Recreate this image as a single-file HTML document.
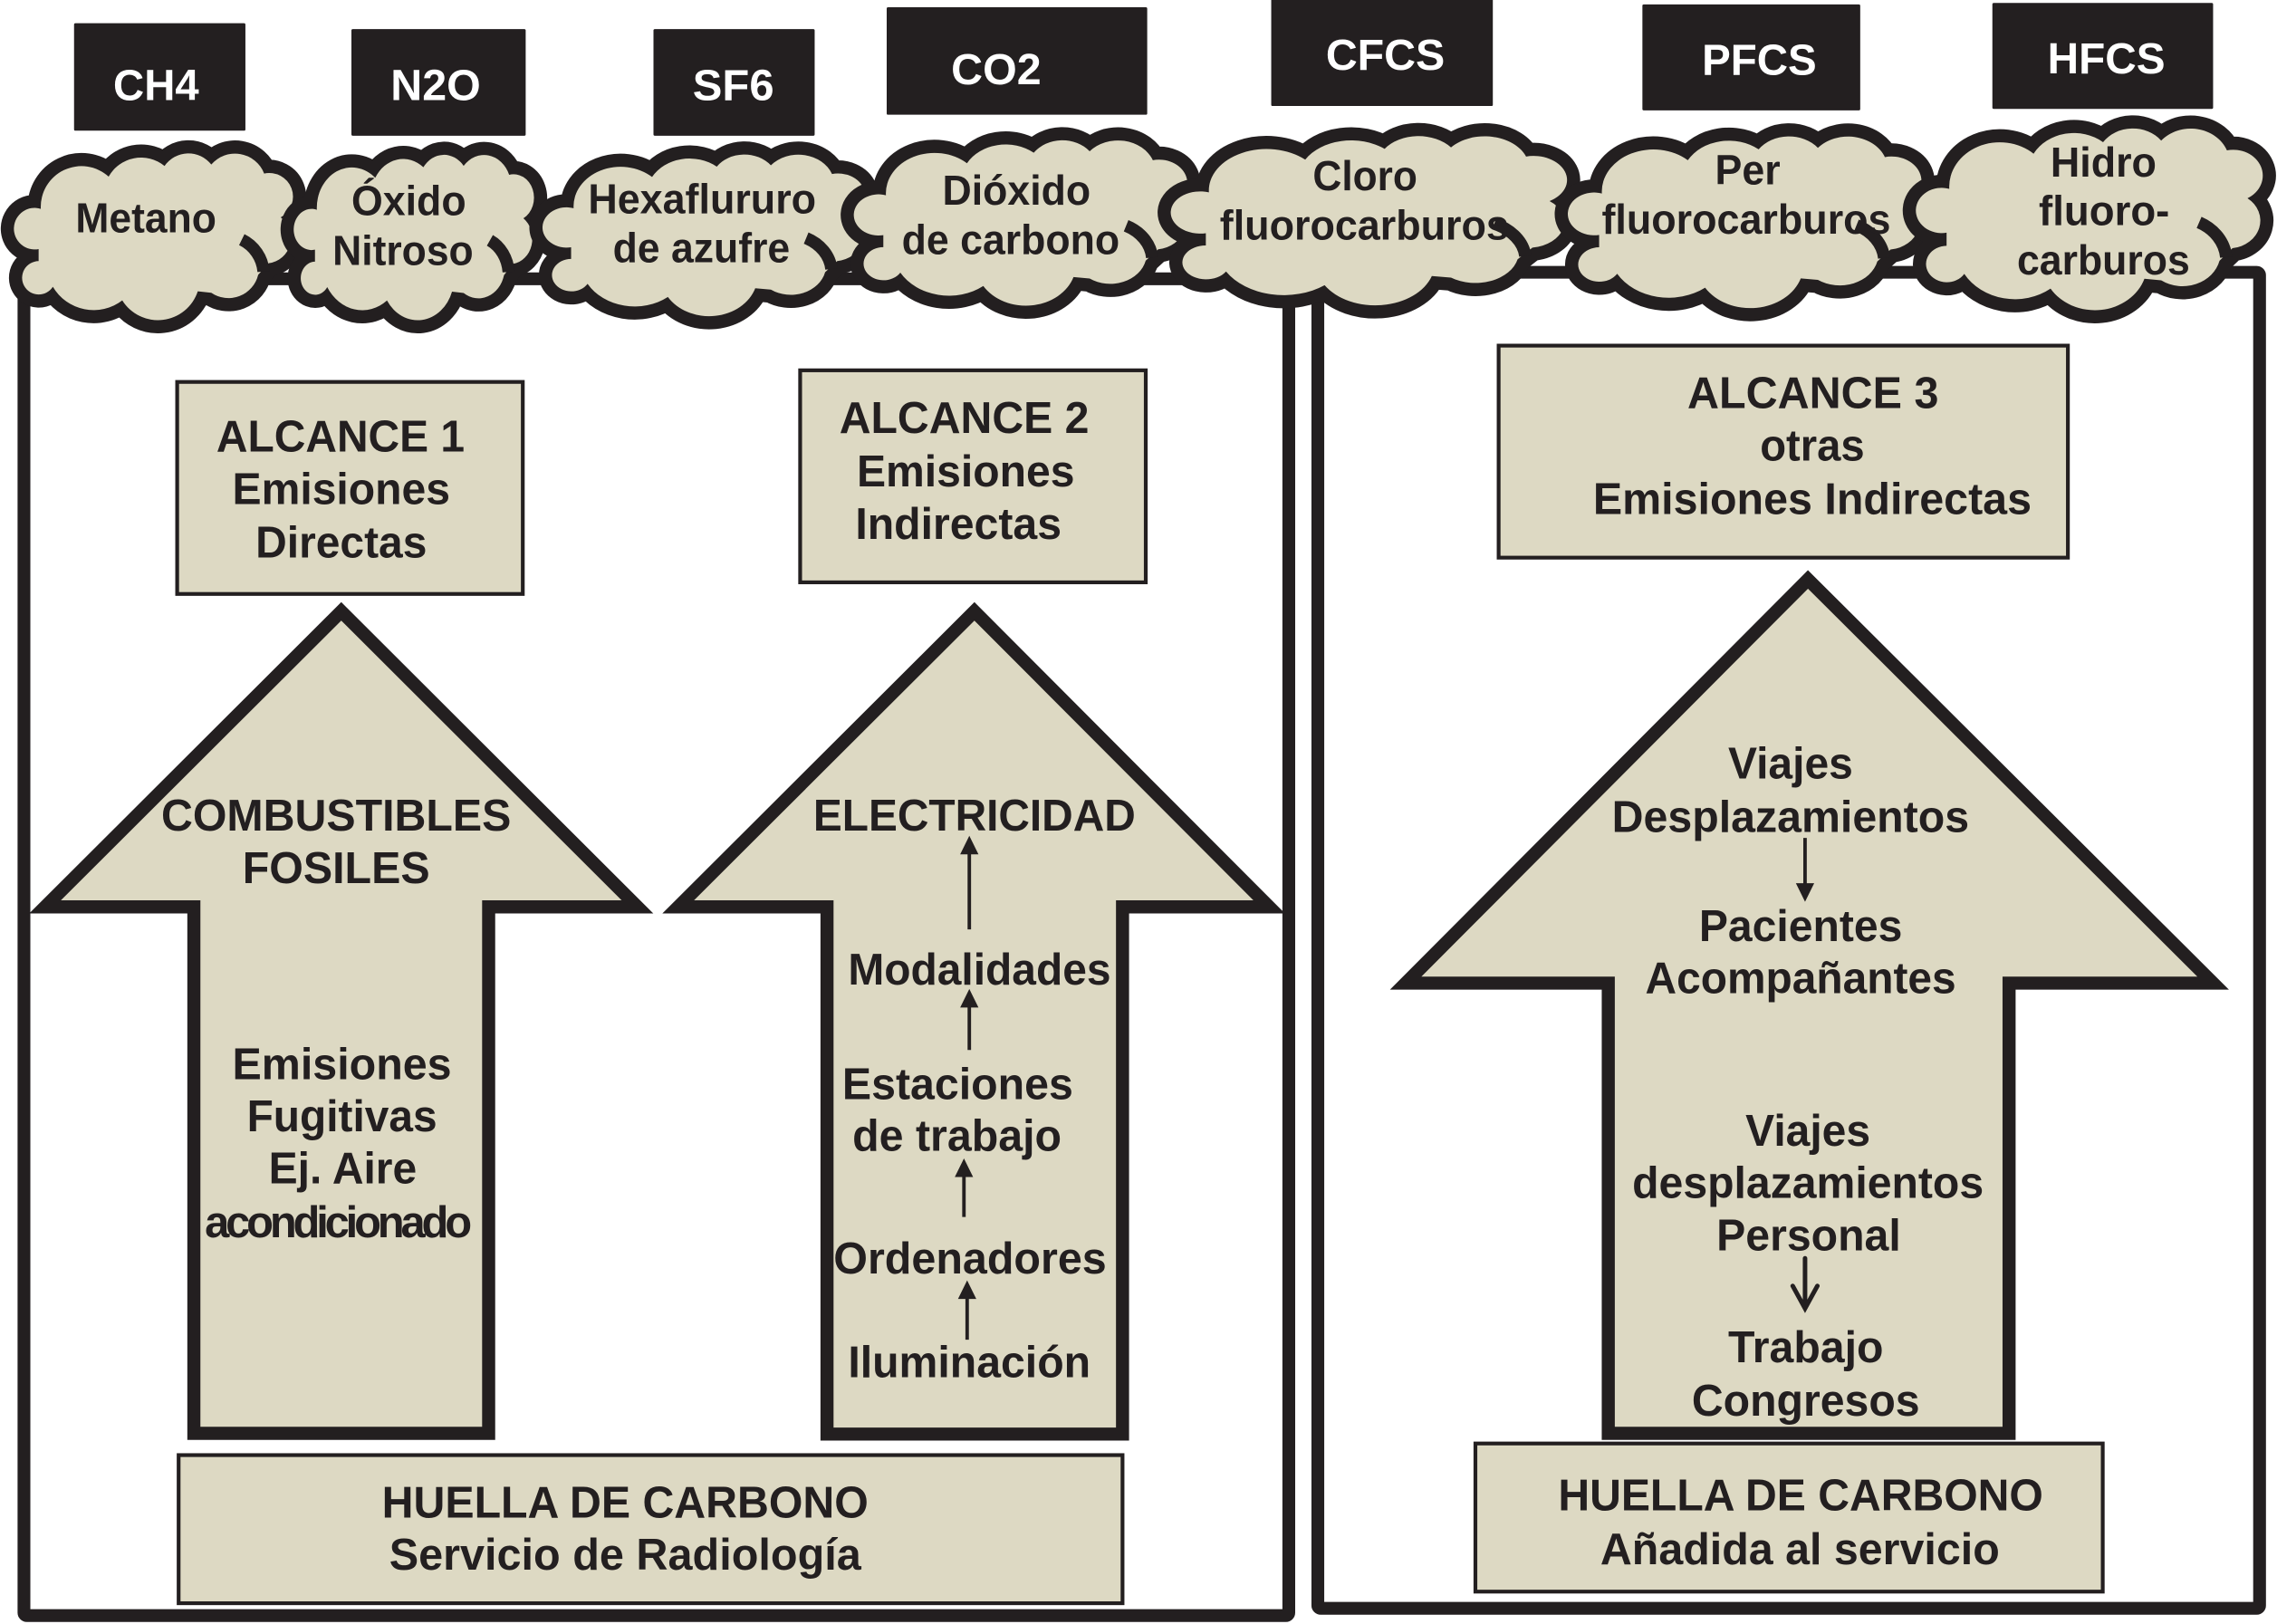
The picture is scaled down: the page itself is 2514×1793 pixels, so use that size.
<!DOCTYPE html>
<html lang="es"><head><meta charset="utf-8"><title>Huella de carbono</title>
<style>
html,body{margin:0;padding:0;background:#fff}
svg{display:block}
text{font-family:"Liberation Sans",sans-serif;font-weight:700;fill:#231f20;font-size:30.5px}
.w{fill:#fff;font-size:30px}
.c{font-size:29px}
.b{fill:#231f20}
.t{fill:#ddd9c3;stroke:#231f20;stroke-width:2.6}
.a{fill:#ddd9c3;stroke:#231f20;stroke-width:9;stroke-linejoin:miter;stroke-miterlimit:10}
.f{fill:none;stroke:#231f20;stroke-width:8.8;stroke-linejoin:round}
.l{stroke:#231f20;stroke-width:2.4;fill:none}
</style></head><body>
<svg xmlns="http://www.w3.org/2000/svg" width="2514" height="1793" viewBox="0 0 1568 1118.3">
<defs>
<path id="p" vector-effect="non-scaling-stroke" d="M28.1,143.8 A28,28 0 0 1 74.8,121.6 A25.6,25.6 0 0 1 113.3,114.3 A20,20 0 0 1 145.5,113.3 A21.5,21.5 0 0 1 181.9,119.5 A16.3,16.3 0 0 1 193.3,149.7 A17.6,17.6 0 0 1 185,181.3 L177.8,189.2 A21,21 0 0 1 145.5,201.6 L136.2,200.6 A28.9,28.9 0 0 1 84.2,206.8 A32.5,32.5 0 0 1 36.4,197.5 A11.5,11.5 0 1 1 26.6,179.8 L26.6,171.5 A14.3,14.3 0 1 1 28.1,143.8 Z"/>
<g id="cloud">
<use href="#p" fill="#231f20" stroke="#231f20" stroke-width="29" stroke-linejoin="round"/>
<use href="#p" fill="#ddd9c3"/>
<path vector-effect="non-scaling-stroke" d="M166.5,165 A27,27 0 0 1 181.5,187" fill="none" stroke="#231f20" stroke-width="13.5"/>
</g>
</defs>

<rect class="f" x="16.5" y="192" width="871" height="920.5" rx="2"/>
<rect class="f" x="907.5" y="187.5" width="648.5" height="920" rx="2"/>

<!-- black label boxes -->
<rect class="b" x="51" y="16" width="118" height="74" rx="1"/>
<rect class="b" x="242" y="20" width="120" height="73.5" rx="1"/>
<rect class="b" x="450" y="20" width="111" height="73.5" rx="1"/>
<rect class="b" x="610.6" y="5" width="179.4" height="74" rx="1"/>
<rect class="b" x="875.4" y="-2" width="152.6" height="75" rx="1"/>
<rect class="b" x="1131" y="3" width="150" height="73" rx="1"/>
<rect class="b" x="1372" y="2" width="152" height="73" rx="1"/>
<text class="w" x="78" y="69" textLength="59" lengthAdjust="spacingAndGlyphs">CH4</text>
<text class="w" x="269" y="69" textLength="62" lengthAdjust="spacingAndGlyphs">N2O</text>
<text class="w" x="477" y="69" textLength="56" lengthAdjust="spacingAndGlyphs">SF6</text>
<text class="w" x="655" y="58" textLength="62" lengthAdjust="spacingAndGlyphs">CO2</text>
<text class="w" x="913" y="48" textLength="82" lengthAdjust="spacingAndGlyphs">CFCS</text>
<text class="w" x="1172" y="51.5" textLength="79" lengthAdjust="spacingAndGlyphs">PFCS</text>
<text class="w" x="1410" y="50.5" textLength="81" lengthAdjust="spacingAndGlyphs">HFCS</text>

<!-- clouds -->
<use href="#cloud"/>
<use href="#cloud" transform="translate(194,1.8) scale(.861,.992)"/>
<use href="#cloud" transform="translate(362.5,3.9) scale(1.157,.97)"/>
<use href="#cloud" transform="translate(576.5,-8.2) scale(1.195,.992)"/>
<use href="#cloud" transform="translate(792.6,-13.5) scale(1.42,1.015)"/>
<use href="#cloud" transform="translate(1067.5,-14.9) scale(1.267,1.03)"/>
<use href="#cloud" transform="translate(1307.4,-26.7) scale(1.243,1.09)"/>

<g class="c">
<text class="c" x="52" y="160" textLength="97" lengthAdjust="spacingAndGlyphs">Metano</text>
<text class="c" x="242" y="148" textLength="79" lengthAdjust="spacingAndGlyphs">Óxido</text>
<text class="c" x="229" y="182.5" textLength="97" lengthAdjust="spacingAndGlyphs">Nitroso</text>
<text class="c" x="405" y="147" textLength="157" lengthAdjust="spacingAndGlyphs">Hexaflururo</text>
<text class="c" x="422" y="180.5" textLength="122" lengthAdjust="spacingAndGlyphs">de azufre</text>
<text class="c" x="649" y="141" textLength="102" lengthAdjust="spacingAndGlyphs">Dióxido</text>
<text class="c" x="621" y="175" textLength="150" lengthAdjust="spacingAndGlyphs">de carbono</text>
<text class="c" x="904" y="131" textLength="72" lengthAdjust="spacingAndGlyphs">Cloro</text>
<text class="c" x="840" y="165" textLength="199" lengthAdjust="spacingAndGlyphs">fluorocarburos</text>
<text class="c" x="1181" y="127" textLength="45" lengthAdjust="spacingAndGlyphs">Per</text>
<text class="c" x="1103" y="161" textLength="199" lengthAdjust="spacingAndGlyphs">fluorocarburos</text>
<text class="c" x="1412" y="121.5" textLength="73" lengthAdjust="spacingAndGlyphs">Hidro</text>
<text class="c" x="1404" y="155" textLength="90" lengthAdjust="spacingAndGlyphs">fluoro-</text>
<text class="c" x="1389" y="189" textLength="119" lengthAdjust="spacingAndGlyphs">carburos</text>
</g>

<!-- tan boxes -->
<rect class="t" x="122" y="263" width="238" height="146"/>
<rect class="t" x="551" y="255" width="238" height="146"/>
<rect class="t" x="1032" y="238" width="392" height="146"/>
<rect class="t" x="123" y="1002" width="650" height="102"/>
<rect class="t" x="1016" y="994" width="432" height="102"/>

<!-- big arrows -->
<polygon class="a" points="235,421 439,624.5 336.5,624.5 336.5,987 133.5,987 133.5,624.5 31,624.5"/>
<polygon class="a" points="671,421 874,624.5 773,624.5 773,987.5 569.5,987.5 569.5,624.5 467,624.5"/>
<polygon class="a" points="1245,399 1524,677 1383.5,677 1383.5,987 1107.5,987 1107.5,677 968,677"/>

<!-- small arrows -->
<path class="l" d="M667.5,640V585M667.5,723V690M663.8,838V806M666,922.5V890M1243,577V610"/>
<path class="b" d="M667.5,575.5l6.3,12.8h-12.6zM667.5,681l6.3,12.8h-12.6zM663.8,797.7l6.3,12.8h-12.6zM666,881.7l6.3,12.8h-12.6zM1243,621l-6.3,-12.8h12.6z"/>
<path d="M1243,866.5V899M1234.5,885.5L1243,901L1251.5,885.5" fill="none" stroke="#231f20" stroke-width="3.1" stroke-linecap="round"/>

<!-- main labels -->
<text x="149" y="311" textLength="171" lengthAdjust="spacingAndGlyphs">ALCANCE 1</text>
<text x="160" y="347" textLength="150" lengthAdjust="spacingAndGlyphs">Emisiones</text>
<text x="176" y="384" textLength="118" lengthAdjust="spacingAndGlyphs">Directas</text>
<text x="578" y="298" textLength="172" lengthAdjust="spacingAndGlyphs">ALCANCE 2</text>
<text x="590" y="335" textLength="150" lengthAdjust="spacingAndGlyphs">Emisiones</text>
<text x="589" y="371" textLength="142" lengthAdjust="spacingAndGlyphs">Indirectas</text>
<text x="1162" y="281" textLength="173" lengthAdjust="spacingAndGlyphs">ALCANCE 3</text>
<text x="1212" y="317" textLength="72" lengthAdjust="spacingAndGlyphs">otras</text>
<text x="1097" y="354" textLength="302" lengthAdjust="spacingAndGlyphs">Emisiones Indirectas</text>
<text x="111" y="572" textLength="241" lengthAdjust="spacingAndGlyphs">COMBUSTIBLES</text>
<text x="167" y="608" textLength="129" lengthAdjust="spacingAndGlyphs">FOSILES</text>
<text x="160" y="743" textLength="151" lengthAdjust="spacingAndGlyphs">Emisiones</text>
<text x="170" y="779" textLength="131" lengthAdjust="spacingAndGlyphs">Fugitivas</text>
<text x="185" y="815" textLength="102" lengthAdjust="spacingAndGlyphs">Ej. Aire</text>
<text x="141" y="852" textLength="184" lengthAdjust="spacing">acondicionado</text>
<text x="560" y="572" textLength="222" lengthAdjust="spacingAndGlyphs">ELECTRICIDAD</text>
<text x="584" y="678" textLength="181" lengthAdjust="spacingAndGlyphs">Modalidades</text>
<text x="580" y="757" textLength="159" lengthAdjust="spacingAndGlyphs">Estaciones</text>
<text x="587" y="792.5" textLength="144" lengthAdjust="spacingAndGlyphs">de trabajo</text>
<text x="574" y="877" textLength="188" lengthAdjust="spacingAndGlyphs">Ordenadores</text>
<text x="584" y="948.5" textLength="167" lengthAdjust="spacingAndGlyphs">Iluminación</text>
<text x="263" y="1045" textLength="335" lengthAdjust="spacingAndGlyphs">HUELLA DE CARBONO</text>
<text x="268" y="1081" textLength="325" lengthAdjust="spacingAndGlyphs">Servicio de Radiología</text>
<text x="1190" y="536" textLength="86" lengthAdjust="spacingAndGlyphs">Viajes</text>
<text x="1110" y="573" textLength="246" lengthAdjust="spacingAndGlyphs">Desplazamientos</text>
<text x="1170" y="648" textLength="140" lengthAdjust="spacingAndGlyphs">Pacientes</text>
<text x="1133" y="684" textLength="214" lengthAdjust="spacingAndGlyphs">Acompañantes</text>
<text x="1202" y="789" textLength="86" lengthAdjust="spacingAndGlyphs">Viajes</text>
<text x="1124" y="825" textLength="242" lengthAdjust="spacingAndGlyphs">desplazamientos</text>
<text x="1182" y="861" textLength="127" lengthAdjust="spacingAndGlyphs">Personal</text>
<text x="1190" y="938" textLength="107" lengthAdjust="spacingAndGlyphs">Trabajo</text>
<text x="1165" y="975" textLength="157" lengthAdjust="spacingAndGlyphs">Congresos</text>
<text x="1073" y="1040" textLength="334" lengthAdjust="spacingAndGlyphs">HUELLA DE CARBONO</text>
<text x="1102" y="1077" textLength="275" lengthAdjust="spacingAndGlyphs">Añadida al servicio</text>
</svg>
</body></html>
